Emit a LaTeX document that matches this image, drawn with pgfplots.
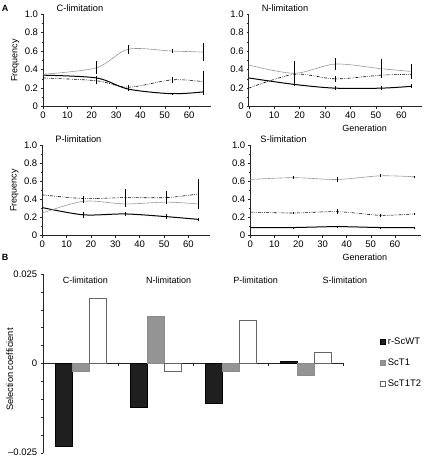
\documentclass[border=0pt]{standalone}
\usepackage{pgfplots}
\pgfplotsset{compat=1.18}
\usepackage{fontspec}
\setmainfont{Liberation Sans}
\pgfplotsset{
  freq/.style={
    scale only axis, anchor=south west, clip=false,
    axis lines=left, axis line style={-, line width=0.5pt, black!85},
    xmin=0, ymin=0, ymax=1,
    xtick={0,10,20,30,40,50,60},
    ytick={0,0.2,0.4,0.6,0.8,1.0},
    yticklabels={0,0.2,0.4,0.6,0.8,1.0},
    minor y tick num=1,
    tick align=outside, major tick length=2pt, minor tick length=1.5pt,
    tick style={black!85, line width=0.4pt},
    tick label style={font=\fontsize{9.5}{10}\selectfont},
    /pgf/number format/assume math mode=true,
    label style={font=\fontsize{9}{10}\selectfont},
    yticklabel style={xshift=0.5pt},
    ylabel style={at={(axis description cs:-0.165,0.5)}, anchor=center, rotate=0},
  },
  wt/.style={black, line width=1pt, smooth, mark=none,
    error bars/.cd, y dir=both, y explicit, error mark=none,
    error bar style={solid, black, line width=0.6pt}},
  t1/.style={black, line width=0.6pt, smooth, mark=none,
    dash pattern=on 3pt off 1.2pt on 0.6pt off 1.2pt on 0.6pt off 1.2pt,
    error bars/.cd, y dir=both, y explicit, error mark=none,
    error bar style={solid, black, line width=0.6pt}},
  t12/.style={black!45, line width=0.6pt, smooth, mark=none,
    dash pattern=on 1.2pt off 0.4pt,
    error bars/.cd, y dir=both, y explicit, error mark=none,
    error bar style={solid, black, line width=0.6pt}},
  sqlegend/.style={legend image code/.code={\draw[##1] (0pt,-2.5pt) rectangle (5pt,2.5pt);}},
}
\tikzset{ttl/.style={font=\fontsize{9.3}{10}\selectfont, yshift=6pt}}
\begin{document}
\begin{tikzpicture}[x=1pt,y=1pt]
\path[use as bounding box] (0,0) rectangle (424,458);
\node[font=\bfseries\fontsize{9}{10}\selectfont] at (5,450) {A};
\node[font=\bfseries\fontsize{9}{10}\selectfont] at (5,201) {B};

% C-limitation
\begin{axis}[freq, at={(43pt,351.3pt)}, width=168pt, height=92.7pt, xmax=69,
  ylabel={Frequency}]
\addplot[wt] table[x index=0,y index=1,y error index=2] {
0 0.34 0
22 0.31 0.02
35 0.19 0.02
53 0.14 0.01
66 0.16 0.03
};
\addplot[t1] table[x index=0,y index=1,y error index=2] {
0 0.31 0
22 0.28 0.04
35 0.21 0.02
53 0.29 0.03
66 0.27 0.11
};
\addplot[t12] table[x index=0,y index=1,y error index=2] {
0 0.35 0
22 0.42 0.07
35 0.62 0.05
53 0.60 0.02
66 0.59 0.10
};
\node[ttl] at (rel axis cs:0.22,1) {C-limitation};
\end{axis}

% N-limitation
\begin{axis}[freq, at={(248.7pt,351.3pt)}, width=173pt, height=92.7pt, xmax=68,
  xlabel={Generation}, xlabel style={at={(ticklabel cs:0.67)}, anchor=north, yshift=1pt}]
\addplot[wt] table[x index=0,y index=1,y error index=2] {
0 0.31 0
18 0.24 0.02
34 0.20 0.02
52 0.20 0.02
64 0.22 0.02
};
\addplot[t1] table[x index=0,y index=1,y error index=2] {
0 0.20 0
18 0.35 0.03
34 0.30 0.03
52 0.34 0.03
64 0.35 0.03
};
\addplot[t12] table[x index=0,y index=1,y error index=2] {
0 0.45 0
18 0.36 0.13
34 0.46 0.06
52 0.41 0.10
64 0.38 0.08
};
\node[ttl] at (rel axis cs:0.21,1) {N-limitation};
\end{axis}

% P-limitation
\begin{axis}[freq, at={(42.3pt,222.3pt)}, width=168pt, height=90.7pt, xmax=69,
  ylabel={Frequency}]
\addplot[wt] table[x index=0,y index=1,y error index=2] {
0 0.31 0
17 0.23 0.03
34 0.24 0.02
51 0.21 0.03
64 0.18 0.02
};
\addplot[t1] table[x index=0,y index=1,y error index=2] {
0 0.45 0
17 0.41 0.03
34 0.42 0.09
51 0.42 0.07
64 0.46 0.17
};
\addplot[t12] table[x index=0,y index=1,y error index=2] {
0 0.25 0
17 0.38 0.02
34 0.35 0.03
51 0.37 0.02
64 0.35 0.03
};
\node[ttl] at (rel axis cs:0.215,1) {P-limitation};
\end{axis}

% S-limitation
\begin{axis}[freq, at={(250.3pt,222.3pt)}, width=171pt, height=90.7pt, xmax=71,
  xlabel={Generation}, xlabel style={at={(ticklabel cs:0.67)}, anchor=north, yshift=1pt}]
\addplot[wt] table[x index=0,y index=1,y error index=2] {
0 0.09 0
18 0.09 0.005
36 0.10 0.01
54 0.09 0.005
68 0.09 0.005
};
\addplot[t1] table[x index=0,y index=1,y error index=2] {
0 0.26 0
18 0.25 0.015
36 0.265 0.025
54 0.225 0.015
68 0.24 0.01
};
\addplot[t12] table[x index=0,y index=1,y error index=2] {
0 0.62 0
18 0.64 0.015
36 0.62 0.025
54 0.66 0.015
68 0.65 0.01
};
\node[ttl] at (rel axis cs:0.194,1) {S-limitation};
\end{axis}

% Selection coefficients
\begin{axis}[scale only axis, anchor=south west, at={(43.3pt,5.3pt)},
  width=300pt, height=178.7pt, clip=false,
  xmin=0.5, xmax=4.5, ymin=-0.025, ymax=0.025,
  scaled y ticks=false,
  ybar=0pt, bar width=17pt,
  axis x line=middle, axis y line=left,
  axis line style={-, line width=0.5pt, black!85},
  xtick={1.5,2.5,3.5,4.5}, xticklabels={},
  ytick={-0.025,0,0.025}, yticklabels={\textendash0.025,0,0.025},
  minor ytick={-0.02,-0.015,-0.01,-0.005,0.005,0.01,0.015,0.02},
  tick align=outside, major tick length=2.5pt, minor tick length=2pt,
  tick style={black!85, line width=0.4pt},
  tick label style={font=\fontsize{9.5}{10}\selectfont},
  ylabel={Selection coefficient},
  label style={font=\fontsize{9.3}{10}\selectfont},
  ylabel style={at={(axis description cs:-0.112,0.465)}, anchor=center, rotate=0},
  legend style={at={(1.113,0.504)}, anchor=west, draw=none, fill=none,
    font=\fontsize{9.5}{10}\selectfont, row sep=9pt,
    /tikz/every even column/.append style={column sep=2pt}},
  legend cell align=left,
]
\addplot[fill=black!88, draw=black, line width=0.4pt, sqlegend]
  coordinates {(1,-0.0232) (2,-0.0123) (3,-0.0111) (4,0.0005)};
\addplot[fill=black!42, draw=black!45, line width=0.4pt, sqlegend]
  coordinates {(1,-0.0021) (2,0.0132) (3,-0.0021) (4,-0.0032)};
\addplot[fill=white, draw=black!60, line width=0.5pt, sqlegend]
  coordinates {(1,0.0182) (2,-0.0021) (3,0.0120) (4,0.0031)};
\legend{r-ScWT,ScT1,ScT1T2}
\node[font=\fontsize{9}{10}\selectfont] at (axis cs:1.06,0.0233) {C-limitation};
\node[font=\fontsize{9}{10}\selectfont] at (axis cs:2.17,0.0233) {N-limitation};
\node[font=\fontsize{9}{10}\selectfont] at (axis cs:3.33,0.0233) {P-limitation};
\node[font=\fontsize{9}{10}\selectfont] at (axis cs:4.52,0.0233) {S-limitation};
\end{axis}
\end{tikzpicture}
\end{document}
